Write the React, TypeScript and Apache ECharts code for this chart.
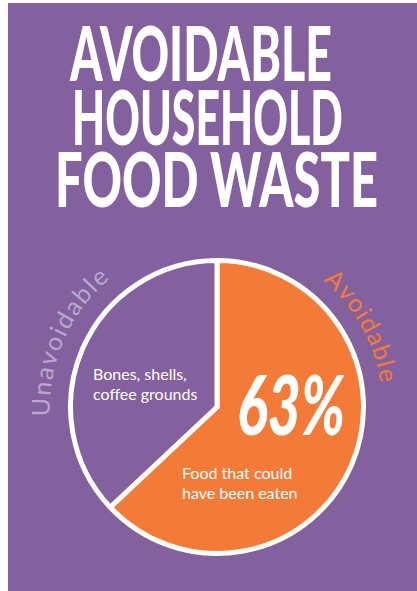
import React, { useEffect, useRef } from "react";
import * as echarts from "echarts";

// ---- data ----
const TITLE_LINES = ["AVOIDABLE", "HOUSEHOLD", "FOOD WASTE"];
const CATEGORIES = ["Avoidable", "Unavoidable"];
const VALUES = [63, 37];
const SLICE_NOTES = ["Food that could\nhave been eaten", "Bones, shells,\ncoffee grounds"];
const HEADLINE = "63%";

// ---- layout / style ----
const W = 417;
const H = 591;
const PURPLE = "#83609e";
const ORANGE = "#f47b37";
const LAVENDER = "#b9a7cd";
const CX = 217;
const CY = 407;

const TITLE_BOXES = [
  { cx: 201, cy: 51, w: 262 },
  { cx: 207.5, cy: 115, w: 271 },
  { cx: 216.5, cy: 178, w: 323 },
];
const TITLE_FONT = "900 76px Lato, 'DejaVu Sans', sans-serif";
const HEAD_FONT = "italic 900 82px Lato, 'DejaVu Sans', sans-serif";
const ARC_FONT = "25px Lato, 'Noto Sans', sans-serif";
const NOTE_FONT = "16px Lato, 'Noto Sans', sans-serif";

let measureCtx: CanvasRenderingContext2D | null = null;
function textWidth(text: string, font: string): number {
  if (!measureCtx) measureCtx = document.createElement("canvas").getContext("2d");
  measureCtx!.font = font;
  return measureCtx!.measureText(text).width;
}

function arcText(
  text: string,
  color: string,
  r: number,
  startDeg: number,
  endDeg: number
): any[] {
  const chars = text.split("");
  const widths = chars.map((c) => textWidth(c, ARC_FONT));
  const n = chars.length;
  const total = widths.reduce((a, b) => a + b, 0);
  const natural = total - widths[0] / 2 - widths[n - 1] / 2;
  const target = ((endDeg - startDeg) * Math.PI) / 180 * r;
  const extra = n > 1 ? (target - natural) / (n - 1) : 0;
  const start = (startDeg * Math.PI) / 180;
  const out: any[] = [];
  let cum = 0;
  for (let i = 0; i < n; i++) {
    if (i > 0) cum += widths[i - 1] / 2 + widths[i] / 2 + extra;
    const a = start + cum / r;
    out.push({
      type: "text",
      x: CX + r * Math.sin(a),
      y: CY - r * Math.cos(a),
      rotation: -a,
      z: 100,
      silent: true,
      style: {
        text: chars[i],
        font: ARC_FONT,
        fill: color,
        align: "center",
        verticalAlign: "middle",
        textAlign: "center",
        textVerticalAlign: "middle",
      },
    });
  }
  return out;
}

function note(text: string, x: number, yMid: number, lh: number): any {
  return {
    type: "text",
    x,
    y: yMid,
    z: 100,
    silent: true,
    style: {
      text,
      font: NOTE_FONT,
      lineHeight: lh,
      fill: "#ffffff",
      align: "left",
      verticalAlign: "middle",
      textAlign: "left",
      textVerticalAlign: "middle",
    },
  };
}

export default function App() {
  const ref = useRef<HTMLDivElement>(null);

  useEffect(() => {
    if (!ref.current) return;
    const chart = echarts.init(ref.current, undefined, { renderer: "svg" });

    const titleEls = TITLE_LINES.map((t, i) => {
      const b = TITLE_BOXES[i];
      const sx = b.w / textWidth(t, TITLE_FONT);
      return {
        type: "text",
        x: b.cx,
        y: b.cy,
        scaleX: sx,
        z: 100,
        silent: true,
        style: {
          text: t,
          font: TITLE_FONT,
          fill: "#ffffff",
          align: "center",
          verticalAlign: "middle",
          textAlign: "center",
          textVerticalAlign: "middle",
        },
      };
    });

    const headScale = 108 / textWidth(HEADLINE, HEAD_FONT);

    const option: any = {
      animation: false,
      backgroundColor: "#ffffff",
      graphic: {
        elements: [
          {
            type: "rect",
            shape: { x: 8, y: 3, width: W - 8, height: H - 3 },
            style: { fill: PURPLE },
            z: -10,
            silent: true,
          },
          ...titleEls,
          ...arcText(CATEGORIES[0], ORANGE, 175, 43, 79.4),
          ...arcText(CATEGORIES[1], LAVENDER, 177, 270, 317.8),
          {
            type: "text",
            x: 291,
            y: 403,
            scaleX: headScale,
            z: 100,
            silent: true,
            style: {
              text: HEADLINE,
              font: HEAD_FONT,
              fill: "#ffffff",
              align: "center",
              verticalAlign: "middle",
              textAlign: "center",
              textVerticalAlign: "middle",
            },
          },
          note(SLICE_NOTES[0], 182, 482, 20),
          note(SLICE_NOTES[1], 93, 383, 20),
        ],
      },
      series: [
        {
          type: "pie",
          center: [CX, CY],
          radius: 146.5,
          startAngle: 90,
          clockwise: true,
          silent: true,
          z: 5,
          label: { show: false },
          labelLine: { show: false },
          emphasis: { disabled: true },
          itemStyle: { borderColor: "#ffffff", borderWidth: 5 },
          data: CATEGORIES.map((name, i) => ({
            name,
            value: VALUES[i],
            itemStyle: { color: i === 0 ? ORANGE : PURPLE },
          })),
        },
      ],
    };

    chart.setOption(option);
    return () => chart.dispose();
  }, []);

  return (
    <div
      ref={ref}
      style={{ position: "fixed", left: 0, top: 0, width: W, height: H }}
    />
  );
}
